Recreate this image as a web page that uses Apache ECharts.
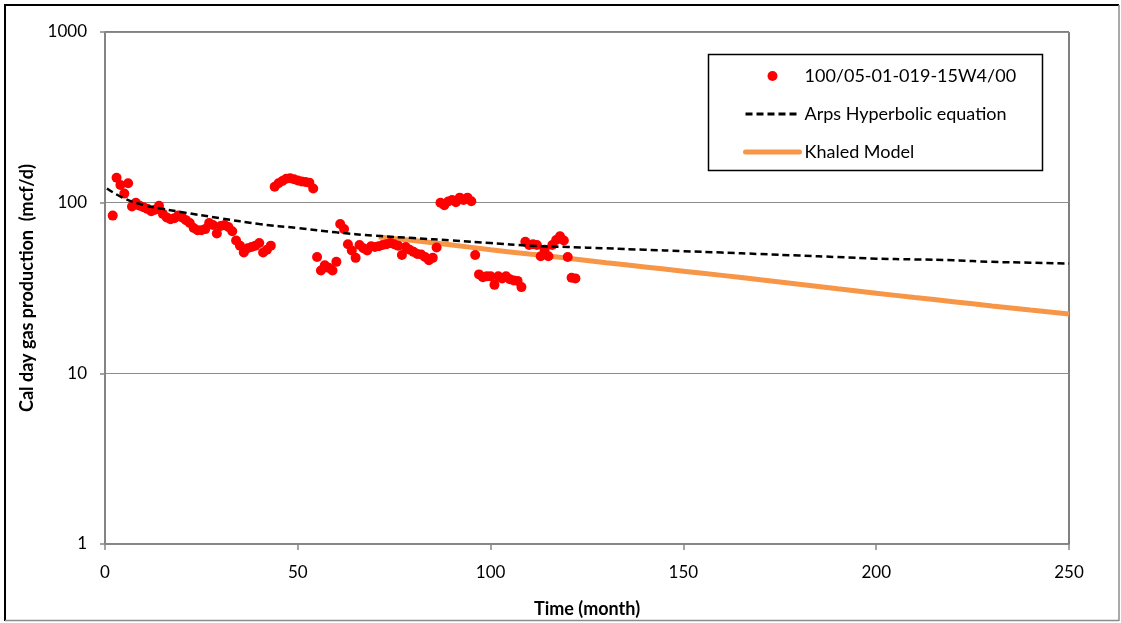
<!DOCTYPE html>
<html><head><meta charset="utf-8">
<script src="https://cdn.jsdelivr.net/npm/echarts@6/dist/echarts.min.js"></script>
<style>html,body{margin:0;padding:0;background:#fff}#c{width:1121px;height:623px}</style>
</head><body><div id="c"></div><script>
// ---- data ----
const months = [2,3,4,5,6,7,8,9,10,11,12,13,14,15,16,17,18,19,20,21,22,23,24,25,26,27,28,29,30,31,32,33,34,35,36,37,38,39,40,41,42,43,44,45,46,47,48,49,50,51,52,53,54,55,56,57,58,59,60,61,62,63,64,65,66,67,68,69,70,71,72,73,74,75,76,77,78,79,80,81,82,83,84,85,86,87,88,89,90,91,92,93,94,95,96,97,98,99,100,101,102,103,104,105,106,107,108,109,110,111,112,113,114,115,116,117,118,119,120,121,122];
const gasRate = [84,140,127,113,130,95,100,96,94,92,89,91,96,86,82,80,81,84,82,79,76,71,69,69,70,76,74,66,73,74,72,68,60,56,51,54,55,56,58,51,53,56,124,130,134,138,139,137,135,133,132,131,121,48,40,43,41.5,40,45,75,70,57,52.5,47.5,56.5,54,52.5,55.5,55,55.5,56.5,57,58,57,56,49.3,55,53,51.5,50,49.7,48,46,47.5,54.6,100,96.5,101.6,103.6,100.6,107,103.6,107,102,49.3,38,36.6,37,37,33,37,36,37,35.6,35,34.8,32,59,56.5,57,56.5,48.5,53,48.5,56.5,60.5,63.5,60,48,36.3,36];
const arpsMonths = [0.5,5,10,15,20,30,40,50,60,70,80,90,100,110,120,130,140,150,160,170,180,190,200,210,220,230,240,250];
const arpsRate = [121,106,97,92,88,81,75,71,67,64,62,60,58,56,55,54,53,52,51,50,49,48,47,46.5,46,45,44.5,44];
const khaledMonths = [71,80,90,100,110,120,130,140,150,160,170,180,190,200,210,220,230,240,250];
const khaledRate = [63,60,56.5,53,50,47.3,44.5,42,39.7,37.5,35.3,33.3,31.3,29.5,27.8,26.3,24.8,23.5,22.3];
const seriesNames = ['100/05-01-019-15W4/00','Arps Hyperbolic equation','Khaled Model'];
const axisTitles = {x:'Time (month)', y:'Cal day gas production  (mcf/d)'};

const zip = (a,b)=>a.map((v,i)=>[v,b[i]]);
const FONT = 'Lato';
const chart = echarts.init(document.getElementById('c'));
chart.setOption({
  animation:false,
  backgroundColor:'#fff',
  textStyle:{fontFamily:FONT},
  grid:{left:105,right:52,top:32,bottom:74,show:true,borderColor:'#000',borderWidth:1,backgroundColor:'transparent'},
  xAxis:{type:'value',min:0,max:250,interval:50,
    name:axisTitles.x,nameLocation:'middle',nameGap:56,
    nameTextStyle:{fontFamily:FONT,fontWeight:'bold',fontSize:18,color:'#000'},
    axisLine:{show:true,lineStyle:{color:'#868686',width:1.5}},
    axisTick:{show:true,length:6,lineStyle:{color:'#868686',width:1.5}},
    axisLabel:{fontFamily:FONT,fontSize:17,color:'#000',margin:20},
    splitLine:{show:false}},
  yAxis:{type:'log',logBase:10,min:1,max:1000,
    name:axisTitles.y,nameLocation:'middle',nameGap:68,
    nameTextStyle:{fontFamily:FONT,fontWeight:'bold',fontSize:18,color:'#000'},
    axisLine:{show:true,lineStyle:{color:'#868686',width:1.5}},
    axisTick:{show:true,length:5,lineStyle:{color:'#868686',width:1.5}},
    axisLabel:{fontFamily:FONT,fontSize:17,color:'#000',margin:18,formatter:v=>String(Math.round(v))},
    splitLine:{show:true,lineStyle:{color:'#8c8c8c',width:1}},
    minorTick:{show:false}},
  legend:{orient:'vertical',left:738,top:61,itemWidth:54,itemHeight:10,itemGap:18,
    textStyle:{fontFamily:FONT,fontSize:18,color:'#000',lineHeight:20},
    data:[
      {name:seriesNames[0]},
      {name:seriesNames[1],itemStyle:{opacity:0},lineStyle:{width:3,type:[7,4],color:'#000'}},
      {name:seriesNames[2],itemStyle:{opacity:0},lineStyle:{width:5,color:'#f79646',cap:'round'}}
    ]},
  graphic:[
    {type:'rect',left:706,top:52,shape:{width:334,height:116},style:{fill:'none',stroke:'#000',lineWidth:1.5},z:100},
    {type:'line',shape:{x1:4,y1:5,x2:1119,y2:5},style:{stroke:'#000',lineWidth:2}},
    {type:'line',shape:{x1:5,y1:4,x2:5,y2:621},style:{stroke:'#000',lineWidth:2}},
    {type:'line',shape:{x1:1119,y1:5,x2:1119,y2:621},style:{stroke:'#8c8c8c',lineWidth:1.5}},
    {type:'line',shape:{x1:5,y1:620.5,x2:1119,y2:620.5},style:{stroke:'#8c8c8c',lineWidth:1.5}}
  ],
  series:[
    {name:seriesNames[0],type:'scatter',data:zip(months,gasRate),symbol:'circle',symbolSize:10,
      itemStyle:{color:'#ff0000',opacity:1},z:3},
    {name:seriesNames[1],type:'line',data:zip(arpsMonths,arpsRate),showSymbol:false,symbol:'none',smooth:true,
      lineStyle:{color:'#000',width:2.5,type:[7,4]},itemStyle:{color:'#000'},z:4},
    {name:seriesNames[2],type:'line',data:zip(khaledMonths,khaledRate),showSymbol:false,symbol:'none',smooth:true,
      lineStyle:{color:'#f79646',width:5},itemStyle:{color:'#f79646'},z:2}
  ]
});
</script></body></html>
